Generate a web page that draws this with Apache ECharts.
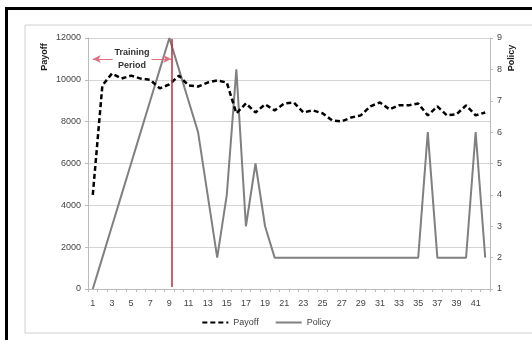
<!DOCTYPE html>
<html>
<head>
<meta charset="utf-8">
<script src="https://cdn.jsdelivr.net/npm/echarts@6/dist/echarts.min.js"></script>
<style>html,body{margin:0;padding:0;background:#fff}#c{width:532px;height:340px}</style>
</head>
<body>
<div id="c"></div>
<script>
const categories = ['1','2','3','4','5','6','7','8','9','10','11','12','13','14','15','16','17','18','19','20','21','22','23','24','25','26','27','28','29','30','31','32','33','34','35','36','37','38','39','40','41','42'];
const payoff = [4500, 9730, 10300, 10060, 10200, 10060, 10000, 9590, 9780, 10200, 9730, 9680, 9870, 9970, 9870, 8400, 8870, 8440, 8830, 8540, 8870, 8920, 8440, 8540, 8400, 8060, 8010, 8200, 8300, 8730, 8920, 8590, 8780, 8780, 8870, 8300, 8730, 8300, 8350, 8780, 8300, 8440];
const policy = [1, 2, 3, 4, 5, 6, 7, 8, 9, 8, 7, 6, 4, 2, 4, 8, 3, 5, 3, 2, 2, 2, 2, 2, 2, 2, 2, 2, 2, 2, 2, 2, 2, 2, 2, 6, 2, 2, 2, 2, 6, 2];
const trainingEnd = 9.2;
const trainingStart = 1;
const arrowLevel = 11000;

const chart = echarts.init(document.getElementById('c'));
const font = 'Liberation Sans, Arial, sans-serif';
chart.setOption({
  animation: false,
  backgroundColor: '#fff',
  textStyle: { fontFamily: font },
  grid: { left: 88, right: 42, top: 38, bottom: 51 },
  graphic: [
    { type: 'rect', shape: { x: 25, y: 25, width: 520, height: 308 }, style: { fill: 'none', stroke: '#d0d0d0', lineWidth: 1 } },
    { type: 'rect', shape: { x: 5, y: 7, width: 3, height: 340 }, style: { fill: '#000' } },
    { type: 'rect', shape: { x: 5, y: 7, width: 540, height: 3 }, style: { fill: '#000' } },
    { type: 'text', x: 45, y: 57, rotation: Math.PI / 2, style: { text: 'Payoff', fill: '#222', font: 'bold 9px ' + font, align: 'center', verticalAlign: 'middle' } },
    { type: 'text', x: 512, y: 58, rotation: Math.PI / 2, style: { text: 'Policy', fill: '#222', font: 'bold 9px ' + font, align: 'center', verticalAlign: 'middle' } }
  ],
  legend: {
    data: ['Payoff', 'Policy'],
    bottom: 8,
    left: 'center',
    itemWidth: 26,
    itemHeight: 8,
    itemGap: 16,
    itemStyle: { opacity: 0, borderWidth: 0 },
    textStyle: { fontSize: 9, color: '#444', fontFamily: font }
  },
  xAxis: [
    {
      type: 'category',
      data: categories,
      boundaryGap: true,
      axisLine: { lineStyle: { color: '#bbb' } },
      axisTick: { show: true, interval: 0, length: 3, lineStyle: { color: '#bbb' } },
      axisLabel: { interval: 1, fontSize: 9, color: '#444', margin: 10, fontFamily: font }
    },
    { type: 'value', min: 0.5, max: 42.5, show: false }
  ],
  yAxis: [
    {
      type: 'value', min: 0, max: 12000, interval: 2000,
      axisLine: { show: true, lineStyle: { color: '#bbb' } },
      axisTick: { show: true, length: 3, lineStyle: { color: '#bbb' } },
      axisLabel: { fontSize: 9, color: '#444', margin: 7, fontFamily: font, formatter: function (v) { return String(v); } },
      splitLine: { lineStyle: { color: '#d4d4d4' } }
    },
    {
      type: 'value', min: 1, max: 9, interval: 1,
      axisLine: { show: true, lineStyle: { color: '#bbb' } },
      axisTick: { show: true, length: 3, lineStyle: { color: '#bbb' } },
      axisLabel: { fontSize: 9, color: '#444', margin: 7, fontFamily: font },
      splitLine: { show: false }
    }
  ],
  series: [
    {
      name: 'Policy', type: 'line', data: policy, yAxisIndex: 1, symbol: 'none',
      lineStyle: { color: '#808080', width: 2 }, itemStyle: { color: '#808080' }
    },
    {
      name: 'Payoff', type: 'line', data: payoff, yAxisIndex: 0, symbol: 'none',
      lineStyle: { color: '#000', width: 2.5, type: [5, 3] }, itemStyle: { color: '#000' }
    },
    {
      name: 'training', type: 'line', xAxisIndex: 1, yAxisIndex: 0, data: [],
      markLine: {
        silent: true,
        animation: false,
        data: [
          [
            { coord: [trainingEnd, 100], symbol: 'none', lineStyle: { color: '#b8303a', width: 1.5, type: 'solid' }, label: { show: false } },
            { coord: [trainingEnd, 11950], symbol: 'none' }
          ],
          [
            { coord: [trainingStart, arrowLevel], symbol: 'arrow', lineStyle: { color: '#e07080', width: 1, type: 'solid' },
              label: { show: true, position: 'middle', distance: 0, verticalAlign: 'middle', formatter: 'Training\nPeriod', color: '#333', fontSize: 9, fontWeight: 'bold', lineHeight: 13, backgroundColor: '#fff', padding: [0, 2], fontFamily: font } },
            { coord: [trainingEnd, arrowLevel], symbol: 'arrow' }
          ]
        ],
        symbolSize: [6, 8]
      }
    }
  ]
});
</script>
</body>
</html>
